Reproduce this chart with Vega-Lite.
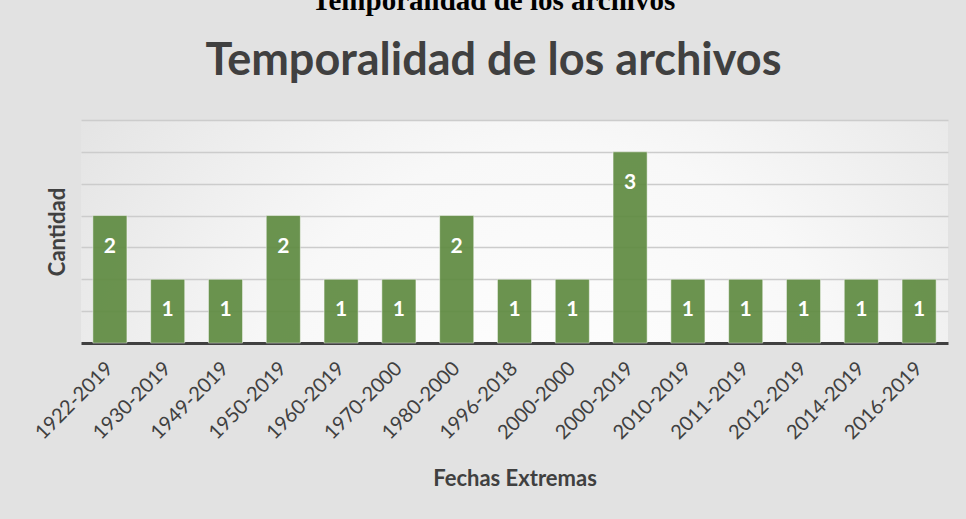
{
  "$schema": "https://vega.github.io/schema/vega-lite/v6.json",
  "width": 867,
  "height": 223,
  "autosize": {"type": "none"},
  "padding": {"left": 81, "top": 120, "right": 18, "bottom": 176},
  "background": "#e2e2e2",
  "title": {
    "text": "Temporalidad de los archivos",
    "subtitle": "Temporalidad de los archivos",
    "font": "Liberation Serif",
    "fontSize": 29,
    "fontWeight": "bold",
    "color": "#000000",
    "subtitleFont": "Lato",
    "subtitleFontSize": 45,
    "subtitleFontWeight": "bold",
    "subtitleColor": "#404040",
    "subtitlePadding": 23,
    "offset": 36,
    "anchor": "middle",
    "dx": -21
  },
  "data": {
    "values": [
      {"periodo": "1922-2019", "cantidad": 2},
      {"periodo": "1930-2019", "cantidad": 1},
      {"periodo": "1949-2019", "cantidad": 1},
      {"periodo": "1950-2019", "cantidad": 2},
      {"periodo": "1960-2019", "cantidad": 1},
      {"periodo": "1970-2000", "cantidad": 1},
      {"periodo": "1980-2000", "cantidad": 2},
      {"periodo": "1996-2018", "cantidad": 1},
      {"periodo": "2000-2000", "cantidad": 1},
      {"periodo": "2000-2019", "cantidad": 3},
      {"periodo": "2010-2019", "cantidad": 1},
      {"periodo": "2011-2019", "cantidad": 1},
      {"periodo": "2012-2019", "cantidad": 1},
      {"periodo": "2014-2019", "cantidad": 1},
      {"periodo": "2016-2019", "cantidad": 1}
    ]
  },
  "encoding": {
    "x": {
      "field": "periodo",
      "type": "nominal",
      "sort": null,
      "scale": {"paddingInner": 0.41, "paddingOuter": 0.205},
      "axis": {
        "title": "Fechas Extremas",
        "titleFont": "Lato",
        "titleFontSize": 22,
        "titleFontWeight": "bold",
        "titleColor": "#404040",
        "titlePadding": 26,
        "labelAngle": -45,
        "labelAlign": "right",
        "labelBaseline": "middle",
        "labelFont": "Lato",
        "labelFontSize": 20,
        "labelColor": "#404040",
        "labelPadding": 22,
        "ticks": false,
        "domainColor": "#404040",
        "domainWidth": 3,
        "grid": false
      }
    },
    "y": {
      "field": "cantidad",
      "type": "quantitative",
      "scale": {"domain": [0, 3.5]},
      "axis": {
        "title": "Cantidad",
        "labels": false,
        "ticks": false,
        "domain": false,
        "values": [0.5, 1, 1.5, 2, 2.5, 3, 3.5],
        "gridColor": "#cccccc",
        "gridWidth": 1.3,
        "titleFont": "Lato",
        "titleFontSize": 22,
        "titleFontWeight": "bold",
        "titleColor": "#404040",
        "titlePadding": 12
      }
    }
  },
  "layer": [
    {
      "mark": {"type": "bar", "color": "#5f8b41", "opacity": 0.92, "stroke": "#ffffff", "strokeOpacity": 0.5, "strokeWidth": 1}
    },
    {
      "mark": {"type": "text", "color": "#ffffff", "font": "Lato", "fontWeight": "bold", "fontSize": 21, "baseline": "middle", "dy": 31},
      "encoding": {"text": {"field": "cantidad", "type": "quantitative"}}
    }
  ],
  "config": {
    "view": {
      "stroke": null,
      "fill": {
        "gradient": "radial",
        "x1": 0.55, "y1": 0.75, "r1": 0,
        "x2": 0.55, "y2": 0.75, "r2": 0.7,
        "stops": [
          {"offset": 0, "color": "#ffffff"},
          {"offset": 0.5, "color": "#f8f8f8"},
          {"offset": 1, "color": "#e2e2e2"}
        ]
      }
    }
  }
}
